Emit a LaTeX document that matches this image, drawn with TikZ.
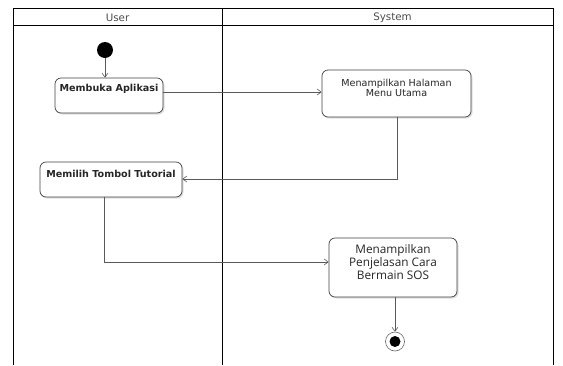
\documentclass[tikz,border=0pt]{standalone}
\usepackage{fontspec}
\setmainfont{DejaVu Sans}
\newfontfamily\opensans{Open Sans}
\usetikzlibrary{arrows.meta,shadows}
\begin{document}
\begin{tikzpicture}[x=1pt,y=-1pt,
  lane/.style={draw=black, line width=0.9pt},
  headtext/.style={font=\fontsize{10.3}{12}\selectfont, text=black!70},
  actbox/.style={draw=black!75, line width=0.7pt, rounded corners=6pt, fill=white,
    drop shadow={opacity=0.25, shadow xshift=1.5pt, shadow yshift=-1.5pt}},
  acttext/.style={font=\fontsize{9.6}{10.5}\selectfont, align=center, inner sep=0pt, text=black!85},
  boldtext/.style={font=\bfseries\fontsize{9.6}{11}\selectfont, align=center, inner sep=0pt, text=black!85},
  flow/.style={draw=black!65, line width=0.6pt, -{Straight Barb[length=4pt,width=6pt]}}
]
\useasboundingbox (0,0) rectangle (563,365);

% swimlane frame
\draw[lane] (13,365) -- (13,8) -- (553,8) -- (553,365);
\draw[lane] (13,25) -- (553,25);
\draw[lane] (222,8) -- (222,365);
\node[headtext] (userhead) at (117.5,17.5) {User};
\node[headtext] (syshead) at (392.5,17.5) {System};

% start and end markers
\node[circle, fill=black, minimum size=16pt, inner sep=0pt] (start) at (105,50) {};
\node[circle, draw=black!60, line width=0.6pt, fill=white, minimum size=19pt, inner sep=0pt] (final) at (395,341.5) {};
\node[circle, fill=black, minimum size=11pt, inner sep=0pt] (finaldot) at (395,341.5) {};

% activities
\node[actbox, minimum width=108pt, minimum height=35pt] (buka) at (109,95.5) {};
\node[boldtext] (bukat) at (109,89) {Membuka Aplikasi};

\node[actbox, minimum width=149pt, minimum height=47pt] (menu) at (396.5,93.5) {};
\node[acttext] (menut) at (396.5,88) {Menampilkan Halaman\\Menu Utama};

\node[actbox, minimum width=142pt, minimum height=35pt] (tutor) at (111,179.5) {};
\node[boldtext] (tutort) at (111,174) {Memilih Tombol Tutorial};

\node[actbox, minimum width=128pt, minimum height=59pt] (jelas) at (393,267.5) {};
\node[acttext, font=\opensans\fontsize{11.8}{13}\selectfont] (jelast) at (393,262) {Menampilkan\\Penjelasan Cara\\Bermain SOS};

% control flow
\draw[flow] (start) -- (buka.north -| start);
\draw[flow] (buka.east |- 0,92) -- (menu.west |- 0,92);
\draw[flow] (menu.south -| 397,0) -- (397,179) -- (tutor.east |- 0,179);
\draw[flow] (tutor.south -| 104,0) -- (104,262) -- (jelas.west |- 0,262);
\draw[flow] (jelas.south -| 395,0) -- (final);
\end{tikzpicture}
\end{document}
